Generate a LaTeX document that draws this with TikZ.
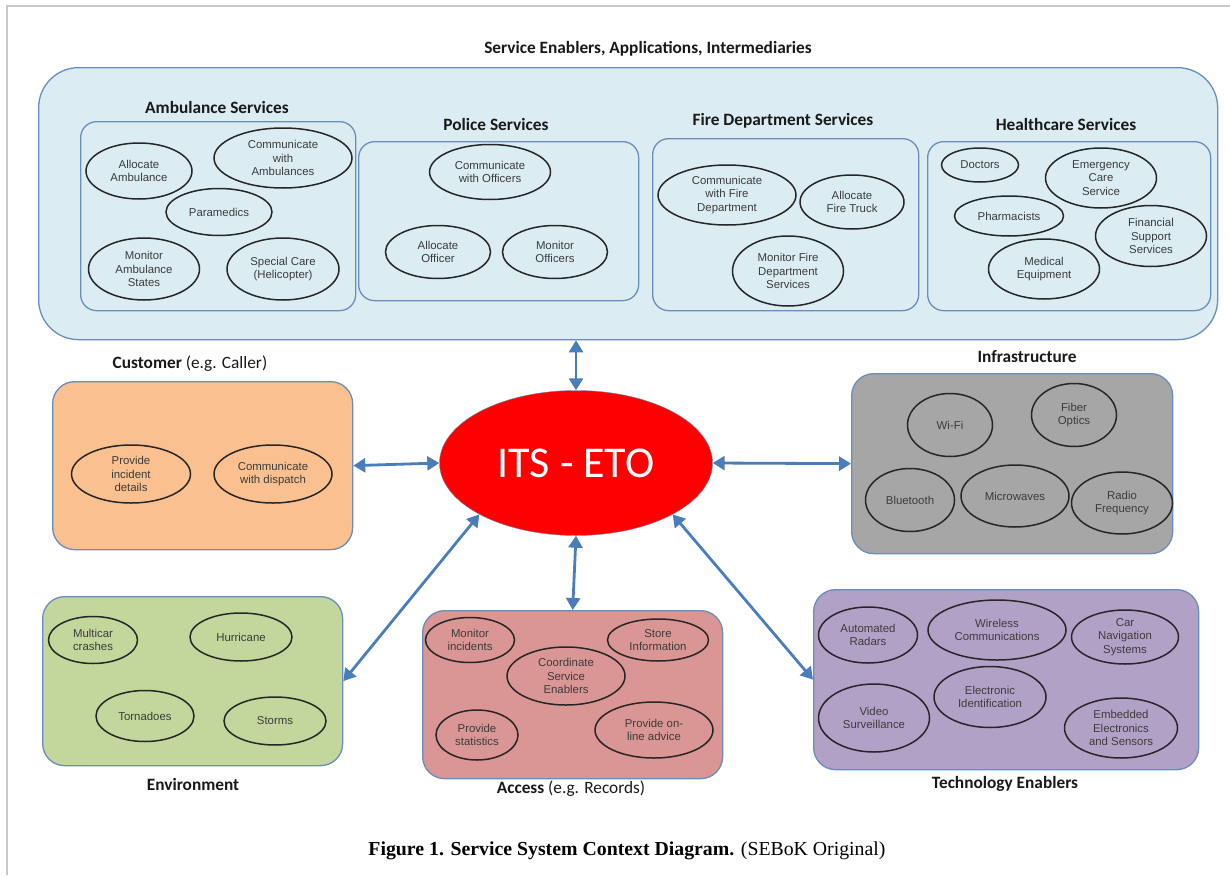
\documentclass[tikz,border=0pt]{standalone}
\usepackage{fontspec}
\setmainfont{Liberation Sans}
\newfontfamily\headfont{Carlito}
\newfontfamily\capfont{Liberation Serif}
\usetikzlibrary{shapes.geometric, arrows.meta, positioning, calc}

\definecolor{edgeblue}{RGB}{105,141,189}
\definecolor{arrowblue}{RGB}{74,126,187}
\definecolor{skyfill}{RGB}{219,237,243}
\definecolor{peachfill}{RGB}{250,192,144}
\definecolor{greyfill}{RGB}{166,166,166}
\definecolor{olivefill}{RGB}{195,214,155}
\definecolor{rosefill}{RGB}{217,150,148}
\definecolor{lilacfill}{RGB}{178,161,199}
\definecolor{textgrey}{RGB}{60,60,60}
\definecolor{framegrey}{RGB}{200,200,200}

\begin{document}
\begin{tikzpicture}[
    x=1pt, y=-1pt,
    panel/.style={rectangle, draw=edgeblue, line width=1.3pt, rounded corners=22pt, anchor=north west, inner sep=0pt},
    group/.style={rectangle, draw=edgeblue, fill=skyfill, line width=1.3pt, rounded corners=16pt, anchor=north west, inner sep=0pt},
    oval/.style={ellipse, draw=black!85, line width=1.5pt, inner sep=0pt, align=center, text=textgrey, font=\fontsize{11.4}{13.3}\selectfont},
    heading/.style={font=\headfont\bfseries\fontsize{17.3}{20}\selectfont, text=black!90},
    link/.style={{Triangle[length=12pt,width=14pt]}-{Triangle[length=12pt,width=14pt]}, draw=arrowblue, line width=2.8pt}
]
\useasboundingbox (0,0) rectangle (1230,875);
\draw[framegrey, line width=1.5pt] (7,875) -- (7,6) -- (1230,6);

% ---- Service enablers (top panel) ----
\node[panel, fill=skyfill, rounded corners=40pt, minimum width=1179pt, minimum height=272pt] (services) at (38,67) {};
\node[heading] (services_title) at (648,49) {Service Enablers, Applications, Intermediaries};

\node[group, minimum width=275pt, minimum height=189pt] (ambulance) at (80,121) {};
\node[group, minimum width=280pt, minimum height=159pt] (police) at (358,141) {};
\node[group, minimum width=266pt, minimum height=172pt] (fire) at (652,138) {};
\node[group, minimum width=283pt, minimum height=169pt] (health) at (927,141) {};

\node[heading] (ambulance_title) at (217,107) {Ambulance Services};
\node[heading] (police_title) at (496,124) {Police Services};
\node[heading] (fire_title) at (783,121) {Fire Department Services};
\node[heading] (health_title) at (1066,124) {Healthcare Services};

% ambulance
\node[oval, minimum width=106pt, minimum height=56pt] (alloc_amb) at (139,171) {Allocate\\Ambulance};
\node[oval, minimum width=138pt, minimum height=60pt] (comm_amb) at (283,158) {Communicate\\with\\Ambulances};
\node[oval, minimum width=106pt, minimum height=47pt] (paramedics) at (219,212) {Paramedics};
\node[oval, minimum width=111pt, minimum height=62pt] (mon_amb) at (144,269) {Monitor\\Ambulance\\States};
\node[oval, minimum width=112pt, minimum height=62pt] (special_care) at (283,269) {Special Care\\(Helicopter)};

% police
\node[oval, minimum width=121pt, minimum height=55pt] (comm_off) at (490,172) {Communicate\\with Officers};
\node[oval, minimum width=105pt, minimum height=53pt] (alloc_off) at (438,252) {Allocate\\Officer};
\node[oval, minimum width=105pt, minimum height=53pt] (mon_off) at (555,252) {Monitor\\Officers};

% fire department
\node[oval, minimum width=138pt, minimum height=60pt] (comm_fire) at (727,195) {Communicate\\with Fire\\Department};
\node[oval, minimum width=104pt, minimum height=54pt] (alloc_truck) at (852,202) {Allocate\\Fire Truck};
\node[oval, minimum width=111pt, minimum height=70pt] (mon_fire) at (788,271) {Monitor Fire\\Department\\Services};

% healthcare
\node[oval, minimum width=77pt, minimum height=34pt] (doctors) at (980,165) {Doctors};
\node[oval, minimum width=111pt, minimum height=60pt] (emergency) at (1101,178) {Emergency\\Care\\Service};
\node[oval, minimum width=109pt, minimum height=40pt] (pharma) at (1009,216) {Pharmacists};
\node[oval, minimum width=111pt, minimum height=61pt] (financial) at (1151,236) {Financial\\Support\\Services};
\node[oval, minimum width=111pt, minimum height=60pt] (medical) at (1044,269) {Medical\\Equipment};

% ---- Centre ----
\node[ellipse, draw=edgeblue, fill=red, text=white, minimum width=273pt, minimum height=145pt, inner sep=0pt, font=\headfont\fontsize{44}{50}\selectfont] (its) at (576,463) {ITS - ETO};

% ---- Customer ----
\node[panel, fill=peachfill, minimum width=300pt, minimum height=168pt] (customer) at (52,381) {};
\node[heading] (customer_title) at (190,364) {Customer \mdseries(e.g. Caller)};
\node[oval, minimum width=119pt, minimum height=58pt] (incident) at (131,474) {Provide\\incident\\details};
\node[oval, minimum width=118pt, minimum height=58pt] (dispatch) at (273,474) {Communicate\\with dispatch};

% ---- Infrastructure ----
\node[panel, fill=greyfill, minimum width=321pt, minimum height=180pt] (infra) at (851,373) {};
\node[heading] (infra_title) at (1027,357) {Infrastructure};
\node[oval, minimum width=85pt, minimum height=63pt] (wifi) at (950,425) {Wi-Fi};
\node[oval, minimum width=85pt, minimum height=63pt] (fiber) at (1074,415) {Fiber\\Optics};
\node[oval, minimum width=89pt, minimum height=63pt] (bluetooth) at (910,500) {Bluetooth};
\node[oval, minimum width=108pt, minimum height=62pt] (microwaves) at (1015,496) {Microwaves};
\node[oval, minimum width=101pt, minimum height=62pt] (radio) at (1122,503) {Radio\\Frequency};

% ---- Environment ----
\node[panel, fill=olivefill, minimum width=300pt, minimum height=169pt] (env) at (42,596) {};
\node[heading] (env_title) at (193,784) {Environment};
\node[oval, minimum width=89pt, minimum height=47pt] (multicar) at (93,640) {Multicar\\crashes};
\node[oval, minimum width=102pt, minimum height=48pt] (hurricane) at (241,637) {Hurricane};
\node[oval, minimum width=98pt, minimum height=51pt] (tornadoes) at (145,716) {Tornadoes};
\node[oval, minimum width=102pt, minimum height=48pt] (storms) at (275,721) {Storms};

% ---- Access ----
\node[panel, fill=rosefill, minimum width=300pt, minimum height=168pt] (access) at (422,610) {};
\node[heading] (access_title) at (571,789) {Access \mdseries(e.g. Records)};
\node[oval, minimum width=89pt, minimum height=45pt] (mon_incid) at (470,640) {Monitor\\incidents};
\node[oval, minimum width=101pt, minimum height=42pt] (store) at (658,640) {Store\\Information};
\node[oval, minimum width=118pt, minimum height=58pt] (coordinate) at (566,676) {Coordinate\\Service\\Enablers};
\node[oval, minimum width=82pt, minimum height=50pt] (statistics) at (477,735) {Provide\\statistics};
\node[oval, minimum width=118pt, minimum height=56pt] (advice) at (654,730) {Provide on-\\line advice};

% ---- Technology enablers ----
\node[panel, fill=lilacfill, minimum width=385pt, minimum height=180pt] (tech) at (813,589) {};
\node[heading] (tech_title) at (1005,784) {Technology Enablers};
\node[oval, minimum width=99pt, minimum height=56pt] (radars) at (868,635) {Automated\\Radars};
\node[oval, minimum width=138pt, minimum height=60pt] (wireless) at (997,630) {Wireless\\Communications};
\node[oval, minimum width=107pt, minimum height=54pt] (carnav) at (1125,637) {Car\\Navigation\\Systems};
\node[oval, minimum width=111pt, minimum height=68pt] (video) at (874,718) {Video\\Surveillance};
\node[oval, minimum width=112pt, minimum height=61pt] (electronic) at (990,697) {Electronic\\Identification};
\node[oval, minimum width=113pt, minimum height=60pt] (embedded) at (1121,728) {Embedded\\Electronics\\and Sensors};

% ---- Connections ----
\draw[link] (its.north) -- (its.north |- services.south);
\draw[link] (customer.east) -- (its.west);
\draw[link] (its.east) -- (infra.west);
\draw[link] (its.south) -- (access.north);
\draw[link] (its.south west) -- (env.east);
\draw[link] (its.south east) -- (tech.west);

% caption
\node[font=\capfont\fontsize{19.8}{23}\selectfont] (caption) at (627,851) {\textbf{Figure 1. Service System Context Diagram.} (SEBoK Original)};

\end{tikzpicture}
\end{document}
